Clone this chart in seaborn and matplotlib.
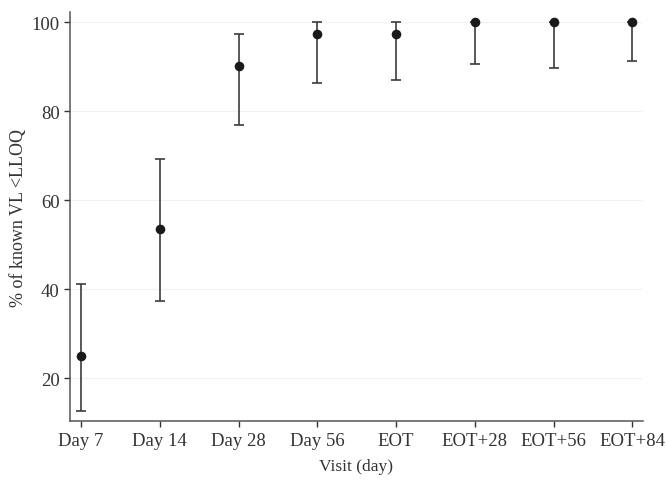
import numpy as np
import pandas as pd
import matplotlib
matplotlib.use("Agg")
import matplotlib.pyplot as plt
import seaborn as sns

visits = ["Day 7", "Day 14", "Day 28", "Day 56", "EOT", "EOT+28", "EOT+56", "EOT+84"]
pct = [25.0, 53.6, 90.2, 97.4, 97.4, 100.0, 100.0, 100.0]
lower = [12.6, 37.4, 76.8, 86.4, 87.1, 90.7, 89.7, 91.3]
upper = [41.2, 69.2, 97.3, 100.0, 100.0, 100.0, 100.0, 100.0]

df = pd.DataFrame({"visit": visits, "pct": pct, "lower": lower, "upper": upper})
df["pos"] = np.arange(len(df))

sns.set_theme(style="white")
plt.rcParams["font.family"] = ["Liberation Serif", "DejaVu Serif"]

fig = plt.figure(figsize=(6.67, 4.81), dpi=100)
ax = fig.add_axes([0.105, 0.122, 0.8585, 0.85])

for y in [20, 40, 60, 80, 100]:
    ax.axhline(y, color="#f2f2f2", lw=0.9, zorder=0)

ax.errorbar(df["pos"], df["pct"],
            yerr=[df["pct"] - df["lower"], df["upper"] - df["pct"]],
            fmt="none", ecolor="#3c3c3c", elinewidth=1.2, capsize=3.7, capthick=1.2, zorder=2)
sns.scatterplot(data=df, x="pos", y="pct", ax=ax, color="#1a1a1a", s=48,
                edgecolor="#1a1a1a", linewidth=0, zorder=3)

ax.set_xlim(-0.14, 7.13)
ax.set_ylim(10.3, 102.2)
ax.set_xticks(df["pos"])
ax.set_xticklabels(visits)
ax.set_yticks([20, 40, 60, 80, 100])
ax.set_xlabel("Visit (day)", fontsize=12.5, color="#333333", labelpad=7)
ax.set_ylabel("% of known VL <LLOQ", fontsize=13, color="#333333", labelpad=3)
ax.tick_params(axis="both", labelsize=13.5, colors="#333333", length=4, width=1,
               direction="out", bottom=True, left=True)
for s in ["top", "right"]:
    ax.spines[s].set_visible(False)
for s in ["left", "bottom"]:
    ax.spines[s].set_color("#555555")
    ax.spines[s].set_linewidth(1.1)

fig.savefig("out.png", dpi=100)
